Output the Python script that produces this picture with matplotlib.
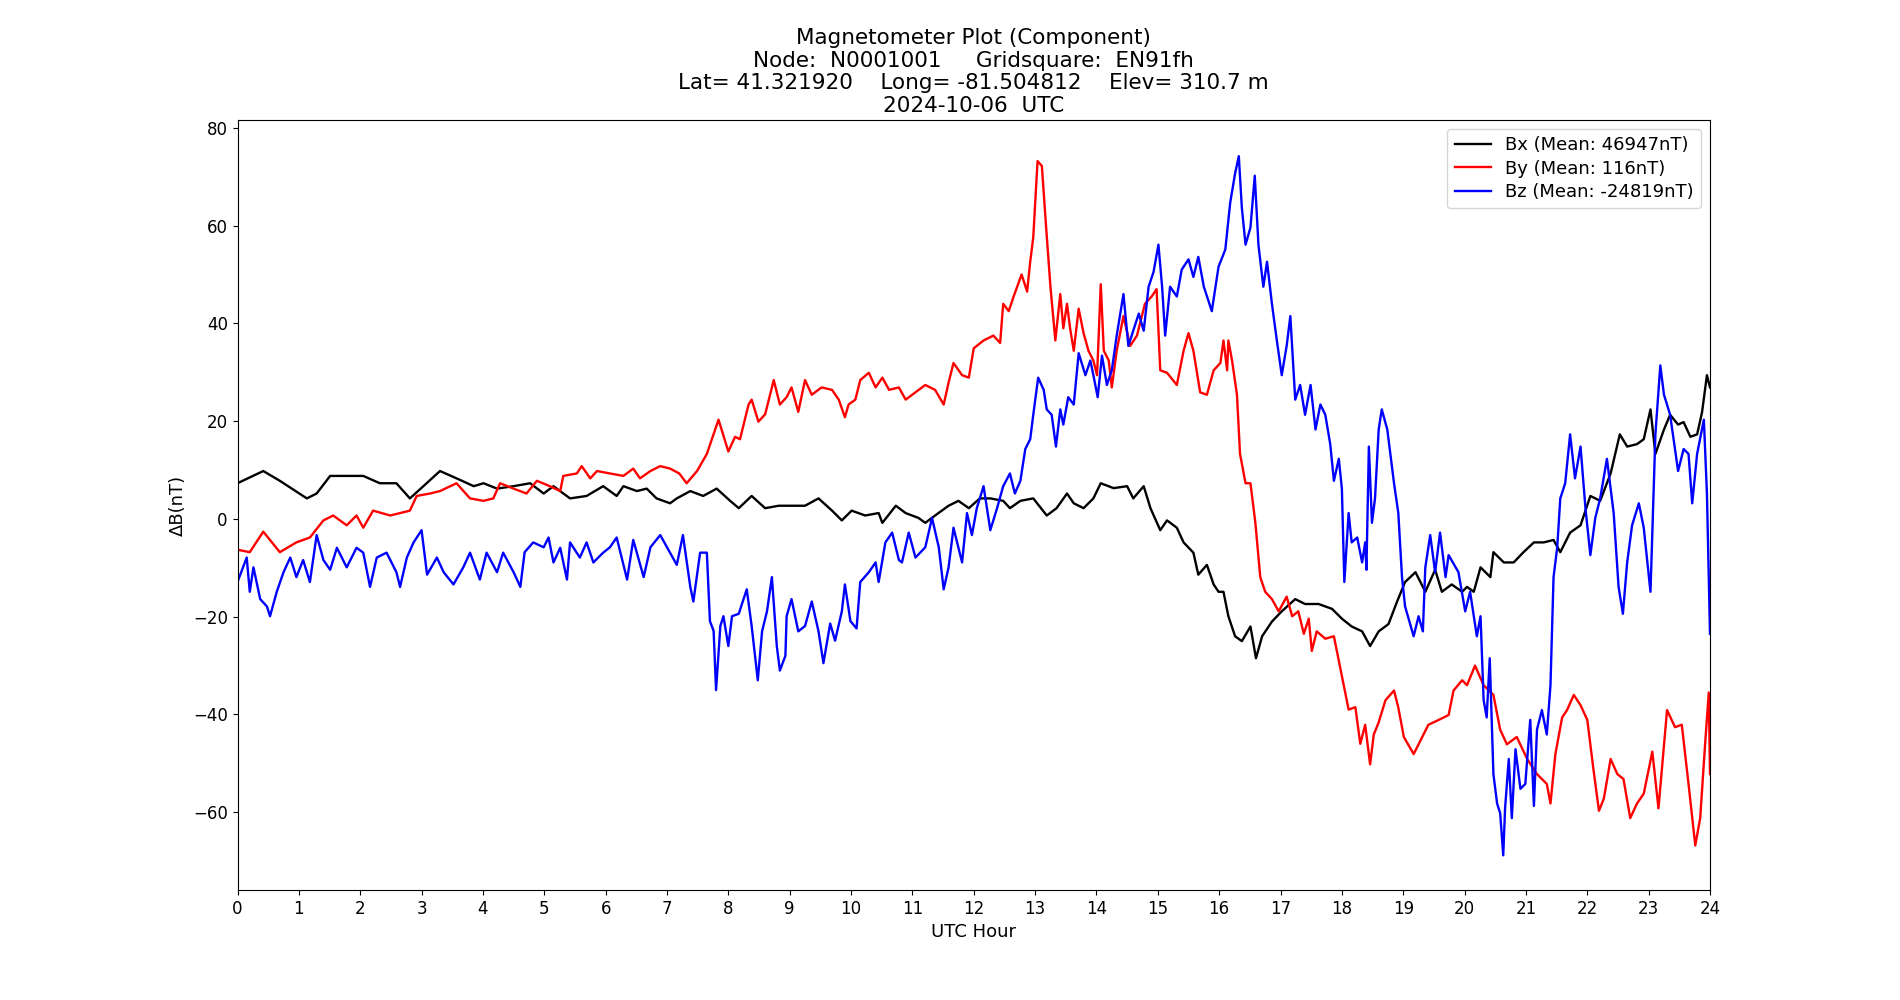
import matplotlib
matplotlib.use("Agg")
import matplotlib.pyplot as plt

# values (UTC hour, delta nT)
bx_hour = [0.0, 0.42, 0.69, 1.13, 1.29, 1.51, 1.78, 2.05, 2.32, 2.59, 2.81, 3.03, 3.30, 3.57, 3.85,
           4.01, 4.23, 4.50, 4.77, 4.99, 5.15, 5.42, 5.69, 5.96, 6.18, 6.29, 6.51, 6.67, 6.83, 7.05,
           7.16, 7.38, 7.59, 7.81, 8.03, 8.17, 8.38, 8.60, 8.82, 9.03, 9.25, 9.47, 9.69, 9.85, 10.01,
           10.23, 10.45, 10.51, 10.73, 10.89, 11.10, 11.21, 11.37, 11.59, 11.75, 11.92, 12.10, 12.27,
           12.48, 12.59, 12.76, 12.97, 13.19, 13.35, 13.52, 13.63, 13.79, 13.95, 14.07, 14.28, 14.50,
           14.60, 14.77, 14.88, 15.04, 15.15, 15.31, 15.42, 15.58, 15.66, 15.80, 15.91, 15.99, 16.07,
           16.15, 16.26, 16.37, 16.51, 16.60, 16.70, 16.86, 17.02, 17.24, 17.40, 17.62, 17.84, 18.00,
           18.16, 18.33, 18.46, 18.60, 18.76, 18.90, 19.03, 19.20, 19.36, 19.52, 19.63, 19.79, 19.96,
           20.04, 20.15, 20.26, 20.42, 20.47, 20.64, 20.80, 20.96, 21.13, 21.29, 21.45, 21.56, 21.72,
           21.89, 22.05, 22.21, 22.38, 22.53, 22.65, 22.81, 22.92, 23.03, 23.11, 23.25, 23.35, 23.48,
           23.57, 23.68, 23.79, 23.87, 23.95, 24.0]
bx_val = [7.3, 9.8, 7.8, 4.2, 5.2, 8.8, 8.8, 8.8, 7.3, 7.3, 4.2, 6.7, 9.8, 8.3, 6.7,
          7.3, 6.2, 6.7, 7.3, 5.2, 6.7, 4.2, 4.7, 6.7, 4.7, 6.7, 5.7, 6.2, 4.2, 3.2,
          4.2, 5.7, 4.7, 6.2, 3.7, 2.2, 4.7, 2.2, 2.7, 2.7, 2.7, 4.2, 1.7, -0.3, 1.7,
          0.7, 1.2, -0.8, 2.7, 1.2, 0.2, -0.8, 0.7, 2.7, 3.7, 2.2, 4.2, 4.2,
          3.7, 2.2, 3.7, 4.2, 0.7, 2.2, 5.2, 3.2, 2.2, 4.2, 7.3, 6.3, 6.7,
          4.2, 6.7, 2.2, -2.3, -0.3, -1.8, -4.8, -6.9, -11.4, -9.4, -13.4, -14.9, -14.9,
          -19.9, -24.0, -25.0, -22.0, -28.5, -24.0, -21.0, -18.9, -16.4, -17.4, -17.4, -18.4, -20.4,
          -22.0, -23.0, -26.0, -23.0, -21.5, -16.9, -12.9, -10.9, -14.9, -10.4, -14.9, -13.4, -14.9,
          -13.9, -14.9, -9.9, -11.9, -6.8, -8.9, -8.9, -6.8, -4.8, -4.8, -4.3, -6.8, -2.8,
          -1.3, 4.7, 3.7, 9.3, 17.3, 14.8, 15.3, 16.3, 22.4, 13.3, 18.3, 21.3, 19.3,
          19.8, 16.8, 17.3, 21.8, 29.4, 26.9]

by_hour = [0.0, 0.20, 0.42, 0.69, 0.96, 1.18, 1.40, 1.56, 1.78, 1.94, 2.05, 2.21, 2.49, 2.81, 2.92,
           3.14, 3.30, 3.57, 3.79, 4.01, 4.17, 4.28, 4.50, 4.71, 4.88, 5.09, 5.26, 5.31, 5.53, 5.61,
           5.75, 5.86, 6.07, 6.29, 6.45, 6.56, 6.73, 6.89, 7.05, 7.20, 7.32, 7.49, 7.65, 7.84, 8.00,
           8.11, 8.19, 8.33, 8.38, 8.49, 8.60, 8.74, 8.84, 8.95, 9.03, 9.14, 9.25, 9.36, 9.52, 9.69,
           9.80, 9.90, 9.96, 10.07, 10.15, 10.29, 10.40, 10.51, 10.62, 10.78, 10.89, 11.05, 11.21,
           11.37, 11.51, 11.59, 11.67, 11.81, 11.92, 12.00, 12.16, 12.32, 12.43, 12.48, 12.57, 12.65,
           12.78, 12.87, 12.92, 12.97, 13.04, 13.11, 13.18, 13.25, 13.33, 13.41, 13.46, 13.52, 13.57,
           13.63, 13.71, 13.79, 13.87, 13.95, 14.01, 14.07, 14.12, 14.20, 14.25, 14.33, 14.44, 14.55,
           14.66, 14.79, 14.90, 14.98, 15.04, 15.15, 15.31, 15.42, 15.50, 15.58, 15.69, 15.80, 15.91,
           16.02, 16.07, 16.13, 16.15, 16.21, 16.29, 16.34, 16.43, 16.51, 16.59, 16.67, 16.75, 16.86,
           16.97, 17.10, 17.19, 17.29, 17.38, 17.46, 17.51, 17.59, 17.73, 17.87, 17.95, 18.03, 18.11,
           18.22, 18.30, 18.38, 18.46, 18.52, 18.60, 18.71, 18.85, 18.92, 19.01, 19.17, 19.31, 19.41,
           19.58, 19.74, 19.82, 19.96, 20.04, 20.17, 20.31, 20.47, 20.58, 20.69, 20.85, 21.02, 21.18,
           21.34, 21.40, 21.48, 21.59, 21.67, 21.78, 21.89, 22.00, 22.10, 22.19, 22.27, 22.38, 22.49,
           22.59, 22.70, 22.81, 22.92, 23.06, 23.16, 23.30, 23.43, 23.54, 23.65, 23.76, 23.84, 23.92,
           23.98, 24.0]
by_val = [-6.3, -6.8, -2.6, -6.8, -4.8, -3.8, -0.3, 0.7, -1.3, 0.7, -1.8, 1.7, 0.7, 1.7, 4.7,
          5.2, 5.7, 7.3, 4.2, 3.7, 4.2, 7.3, 6.2, 5.2, 7.8, 6.7, 5.7, 8.8, 9.3, 10.8,
          8.3, 9.8, 9.3, 8.8, 10.3, 8.3, 9.8, 10.8, 10.3, 9.3, 7.3, 9.8, 13.3, 20.3, 13.8,
          16.8, 16.3, 23.4, 24.4, 19.9, 21.4, 28.4, 23.4, 24.9, 26.9, 21.9, 28.4, 25.4, 26.9, 26.4,
          24.4, 20.8, 23.4, 24.4, 28.4, 29.9, 26.9, 28.9, 26.4, 26.9, 24.4, 25.9, 27.4,
          26.4, 23.4, 27.9, 31.9, 29.4, 28.9, 34.9, 36.5, 37.5, 36.0, 44.0, 42.5, 45.5,
          50.0, 46.5, 52.6, 57.6, 73.2, 72.2, 59.6, 47.5, 36.5, 46.0, 39.0, 44.0, 39.0,
          34.4, 43.0, 38.0, 34.4, 32.4, 29.4, 48.0, 34.4, 32.4, 26.9, 34.4, 41.5, 35.4,
          37.5, 44.0, 45.5, 47.0, 30.4, 29.9, 27.4, 34.4, 38.0, 34.4, 25.9, 25.4, 30.4,
          31.9, 36.5, 30.4, 36.5, 32.4, 25.4, 13.3, 7.3, 7.3, -0.8, -11.9, -14.9, -16.4,
          -18.9, -15.9, -19.9, -18.9, -23.5, -20.4, -27.0, -23.0, -24.5, -24.0, -29.0, -34.0, -39.0,
          -38.5, -46.0, -42.1, -50.2, -44.1, -41.6, -37.1, -35.1, -38.6, -44.6, -48.1, -44.6, -42.1,
          -41.1, -40.1, -35.1, -33.0, -34.0, -30.0, -34.0, -36.0, -43.1, -46.1, -44.6, -49.1, -52.2,
          -54.2, -58.2, -48.1, -40.6, -39.1, -36.0, -38.1, -41.1, -51.2, -59.7, -57.2, -49.1, -52.2,
          -53.2, -61.2, -58.2, -56.2, -47.6, -59.2, -39.1, -42.6, -42.1, -54.2, -66.8, -61.2, -46.1,
          -35.5, -52.2]

bz_hour = [0.0, 0.15, 0.20, 0.26, 0.37, 0.48, 0.53, 0.64, 0.75, 0.86, 0.96, 1.07, 1.18, 1.29, 1.40,
           1.51, 1.62, 1.78, 1.94, 2.05, 2.16, 2.27, 2.43, 2.59, 2.65, 2.76, 2.87, 3.00, 3.09, 3.25,
           3.36, 3.52, 3.68, 3.79, 3.95, 4.06, 4.23, 4.33, 4.50, 4.61, 4.68, 4.82, 4.99, 5.07, 5.15,
           5.26, 5.37, 5.42, 5.58, 5.69, 5.80, 5.96, 6.07, 6.18, 6.35, 6.45, 6.62, 6.73, 6.89, 7.05,
           7.16, 7.26, 7.38, 7.43, 7.54, 7.65, 7.70, 7.76, 7.80, 7.87, 7.92, 8.00, 8.06, 8.17, 8.30,
           8.38, 8.48, 8.55, 8.63, 8.71, 8.79, 8.84, 8.93, 8.95, 9.03, 9.14, 9.25, 9.36, 9.47, 9.55,
           9.66, 9.74, 9.85, 9.90, 9.99, 10.09, 10.15, 10.29, 10.40, 10.45, 10.56, 10.67, 10.78,
           10.83, 10.94, 11.05, 11.21, 11.32, 11.43, 11.51, 11.59, 11.67, 11.81, 11.89, 11.97, 12.05,
           12.16, 12.27, 12.38, 12.48, 12.59, 12.67, 12.76, 12.84, 12.92, 12.97, 13.05, 13.14, 13.19,
           13.27, 13.34, 13.41, 13.46, 13.54, 13.63, 13.71, 13.82, 13.90, 13.95, 14.02, 14.09, 14.17,
           14.25, 14.33, 14.44, 14.52, 14.60, 14.69, 14.77, 14.85, 14.93, 15.01, 15.07, 15.12, 15.20,
           15.31, 15.39, 15.50, 15.58, 15.66, 15.75, 15.88, 15.99, 16.10, 16.18, 16.26, 16.32, 16.37,
           16.43, 16.51, 16.58, 16.64, 16.72, 16.78, 16.86, 16.94, 17.02, 17.10, 17.16, 17.24, 17.32,
           17.40, 17.49, 17.57, 17.65, 17.73, 17.81, 17.87, 17.95, 18.00, 18.04, 18.11, 18.16, 18.25,
           18.33, 18.38, 18.40, 18.44, 18.49, 18.54, 18.60, 18.65, 18.74, 18.79, 18.85, 18.92, 18.98,
           19.03, 19.17, 19.25, 19.32, 19.36, 19.44, 19.52, 19.60, 19.69, 19.74, 19.90, 20.01, 20.09,
           20.20, 20.26, 20.31, 20.36, 20.41, 20.47, 20.53, 20.58, 20.63, 20.66, 20.72, 20.77, 20.83,
           20.91, 20.99, 21.07, 21.13, 21.18, 21.26, 21.34, 21.40, 21.45, 21.51, 21.56, 21.64, 21.72,
           21.80, 21.89, 21.97, 22.05, 22.13, 22.21, 22.32, 22.43, 22.51, 22.58, 22.65, 22.73, 22.84,
           22.92, 23.03, 23.11, 23.19, 23.25, 23.35, 23.48, 23.57, 23.65, 23.71, 23.79, 23.90, 23.95,
           24.0]
bz_val = [-12.9, -7.9, -14.9, -9.9, -16.4, -17.9, -19.9, -14.9, -10.9, -7.9, -11.9, -8.4, -12.9, -3.3, -8.4,
          -10.4, -5.9, -9.9, -5.9, -6.9, -13.9, -7.9, -6.9, -10.9, -13.9, -7.9, -4.8, -2.3, -11.4, -7.9,
          -10.9, -13.4, -9.9, -6.9, -12.4, -6.9, -10.9, -6.9, -10.9, -13.9, -6.8, -4.8, -5.8, -3.8, -8.9,
          -5.9, -12.4, -4.8, -7.9, -4.8, -8.9, -6.9, -5.8, -3.8, -12.4, -4.3, -11.9, -5.8, -3.3, -6.9,
          -9.4, -3.3, -13.9, -16.9, -6.9, -6.9, -20.9, -22.9, -35.0, -21.9, -19.9, -26.0, -19.9, -19.4, -14.4,
          -21.9, -33.0, -23.0, -18.9, -11.9, -26.0, -31.0, -28.0, -19.9, -16.4, -23.0, -21.9, -16.9, -23.0, -29.5,
          -21.4, -24.9, -18.9, -13.4, -20.9, -22.4, -12.9, -10.9, -8.9, -12.9, -4.8, -2.8, -8.4,
          -8.9, -2.8, -7.9, -5.8, 0.2, -5.8, -14.4, -9.9, -1.8, -8.9, 1.2, -3.3, 2.2,
          6.7, -2.3, 2.2, 6.7, 9.3, 5.2, 7.8, 14.3, 16.3, 21.3, 28.9, 26.4, 22.4,
          21.3, 14.8, 22.4, 19.3, 24.9, 23.4, 33.9, 29.4, 32.4, 29.4, 24.9, 33.4, 27.4,
          30.4, 37.5, 46.0, 35.4, 38.5, 42.0, 38.5, 47.5, 50.5, 56.1, 47.5, 37.5, 47.5,
          45.5, 51.0, 53.1, 49.5, 53.6, 47.5, 42.5, 51.6, 55.1, 64.7, 70.7, 74.2, 63.6,
          56.1, 59.6, 70.2, 56.1, 47.5, 52.6, 44.0, 36.5, 29.4, 35.4, 41.5, 24.4, 27.4,
          21.3, 27.4, 18.3, 23.4, 21.3, 15.3, 7.8, 12.3, 6.2, -12.9, 1.2, -4.8, -3.8,
          -8.9, -4.8, -10.4, 14.8, -0.8, 4.2, 18.3, 22.4, 18.3, 13.3, 7.3, 1.2, -11.9,
          -17.9, -24.0, -19.9, -23.0, -9.9, -3.3, -10.9, -2.8, -11.9, -7.4, -10.9, -18.9, -14.9,
          -24.0, -19.9, -37.0, -40.6, -28.5, -52.2, -58.2, -60.2, -68.8, -59.2, -49.1, -61.2, -47.1,
          -55.2, -54.2, -41.1, -58.7, -43.1, -39.1, -44.1, -34.0, -11.9, -5.8, 4.2, 7.3, 17.3,
          8.3, 14.8, 2.2, -7.4, 0.2, 4.2, 12.3, 1.2, -13.9, -19.4, -8.9, -1.3, 3.2,
          -1.8, -14.9, 17.3, 31.4, 25.4, 21.3, 9.8, 14.3, 13.3, 3.2, 13.3, 20.3, 5.2,
          -23.5]

labels = ["Bx (Mean: 46947nT)", "By (Mean: 116nT)", "Bz (Mean: -24819nT)"]
colors = ["black", "red", "blue"]

title = ("Magnetometer Plot (Component)\n"
         "Node:  N0001001     Gridsquare:  EN91fh\n"
         "Lat= 41.321920    Long= -81.504812    Elev= 310.7 m\n"
         "2024-10-06  UTC")

fig, ax = plt.subplots(figsize=(19, 10), dpi=100)
series = [(bx_hour, bx_val), (by_hour, by_val), (bz_hour, bz_val)]
for (h, v), lab, col in zip(series, labels, colors):
    ax.plot(h, v, color=col, lw=1.7, label=lab)

ax.set_xlim(0, 24)
ax.set_ylim(-75.9, 81.6)
ax.set_xticks(range(0, 25))
ax.tick_params(labelsize=12)
ax.set_xlabel("UTC Hour", fontsize=13)
ax.set_ylabel("\u0394B(nT)", fontsize=13)
ax.set_title(title, fontsize=15.5, linespacing=1.16)
ax.legend(loc="upper right", fontsize=13, labelspacing=0.3)

fig.savefig("out.png", dpi=100)
